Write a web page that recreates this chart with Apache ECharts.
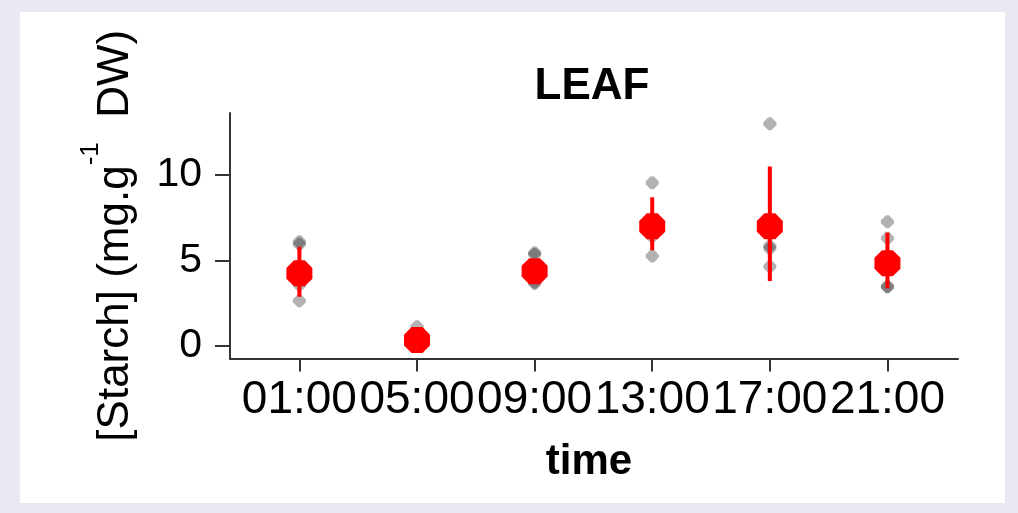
<!DOCTYPE html>
<html><head><meta charset="utf-8">
<script src="https://cdn.jsdelivr.net/npm/echarts@6/dist/echarts.min.js"></script>
<style>html,body{margin:0;padding:0;background:#e9e9f3;}#c{width:1018px;height:513px;}</style>
</head><body><div id="c"></div>
<script>
const categories = ['01:00','05:00','09:00','13:00','17:00','21:00'];
const meanValues = [4.25, 0.35, 4.38, 7.0, 7.0, 4.84];
const errLow = [2.88, 0.15, 4.0, 5.6, 3.8, 3.37];
const errHigh = [5.8, 0.55, 4.75, 8.7, 10.5, 6.63];
const replicates = [
  [6.1, 5.95, 3.57, 2.65],
  [1.13, 0.5, 0.3, 0.1],
  [5.45, 5.35, 3.75, 3.65],
  [9.55, 6.8, 6.4, 5.26],
  [13.0, 5.85, 5.7, 4.65],
  [7.27, 6.3, 3.5, 3.45]
];
const yTicks = [0, 5, 10];
const xPositions = categories.map((c, i) => i + 1);

const font = '"Liberation Sans", Arial, sans-serif';
const greyData = [];
replicates.forEach((arr, i) => arr.forEach(v => greyData.push([xPositions[i], v])));
const meanData = meanValues.map((v, i) => [xPositions[i], v]);
const errData = categories.map((c, i) => [xPositions[i], errLow[i], errHigh[i]]);

const chart = echarts.init(document.getElementById('c'), null, {renderer: 'canvas'});
chart.setOption({
  backgroundColor: '#e9e9f3',
  animation: false,
  graphic: [
    {type: 'rect', z: -10, shape: {x: 20, y: 12, width: 985, height: 491}, style: {fill: '#ffffff'}},
    {type: 'text', x: 592, y: 87, style: {text: 'LEAF', fontFamily: font, fontWeight: 'bold', fontSize: 44, fill: '#000', align: 'center', verticalAlign: 'middle'}}
  ],
  grid: {left: 230, right: 60, top: 113, bottom: 154.5, outerBoundsMode: 'none'},
  xAxis: {
    type: 'value', min: 0.41, max: 6.6,
    name: 'time', nameLocation: 'middle', nameGap: 83,
    nameTextStyle: {fontFamily: font, fontWeight: 'bold', fontSize: 42, color: '#000', padding: [0, 10, 0, 0]},
    splitLine: {show: false},
    axisLine: {show: true, onZero: false, lineStyle: {color: '#333', width: 2}},
    axisTick: {show: true, length: 13, customValues: xPositions, lineStyle: {color: '#333', width: 2}},
    axisLabel: {customValues: xPositions, margin: 19, fontFamily: font, fontSize: 46, color: '#000',
      formatter: v => categories[Math.round(v) - 1]}
  },
  yAxis: {
    type: 'value', min: -0.73, max: 13.63,
    name: '{n|[Starch] (mg.g}{s|-1}{n|  DW)}', nameLocation: 'middle', nameGap: 92, nameRotate: 90,
    nameTextStyle: {fontFamily: font, fontSize: 44, color: '#000',
      rich: {n: {fontFamily: font, fontSize: 44, color: '#000', verticalAlign: 'bottom'},
             s: {fontFamily: font, fontSize: 26, color: '#000', verticalAlign: 'top', padding: [0, 0, 34, 0]}}},
    splitLine: {show: false},
    axisLine: {show: true, onZero: false, lineStyle: {color: '#333', width: 2}},
    axisTick: {show: true, length: 15, customValues: yTicks, lineStyle: {color: '#333', width: 2}},
    axisLabel: {customValues: yTicks, margin: 28, fontFamily: font, fontSize: 41, color: '#000'}
  },
  series: [
    {type: 'scatter', data: greyData, z: 2,
      symbol: 'path://M5,0 L8,0 L13,5 L13,8 L8,13 L5,13 L0,8 L0,5 Z', symbolSize: 13,
      itemStyle: {color: 'rgba(0,0,0,0.3)', opacity: 1}},
    {type: 'custom', data: errData, z: 3,
      renderItem: (params, api) => {
        const x = api.value(0);
        const lo = api.coord([x, api.value(1)]);
        const hi = api.coord([x, api.value(2)]);
        return {type: 'line', shape: {x1: lo[0], y1: lo[1], x2: hi[0], y2: hi[1]},
          style: {stroke: '#ff0000', lineWidth: 4}};
      }},
    {type: 'scatter', data: meanData, z: 4,
      symbol: 'path://M7.6,0 L18.4,0 L26,7.6 L26,18.4 L18.4,26 L7.6,26 L0,18.4 L0,7.6 Z', symbolSize: 26,
      itemStyle: {color: '#ff0000', opacity: 1}}
  ]
});
</script></body></html>
